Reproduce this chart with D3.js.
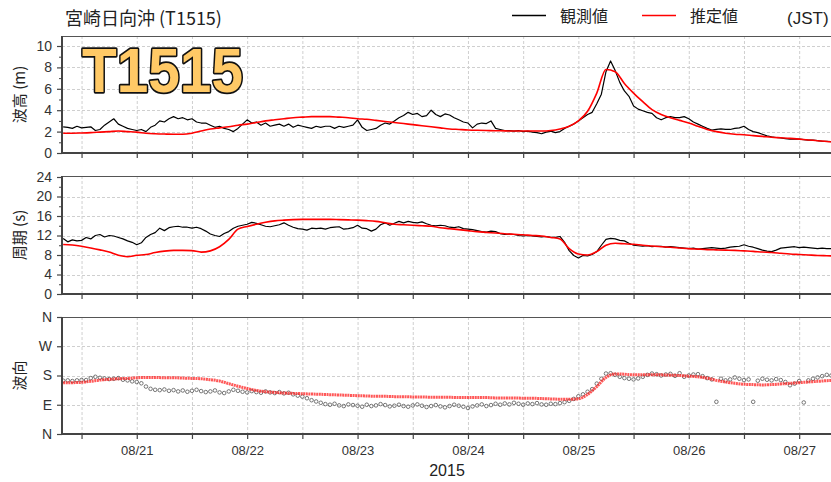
<!DOCTYPE html>
<html>
<head>
<meta charset="utf-8">
<script src="https://cdn.jsdelivr.net/npm/d3@7"></script>
<style>
  body { margin: 0; background: #fff; }
  svg { display: block; font-family: "Liberation Sans", Arial, sans-serif; }
  .jp { font-family: "Noto Sans CJK JP", "Noto Sans", sans-serif; }
  .tick text { fill: #333; font-size: 13px; }
</style>
</head>
<body>
<svg id="chart" width="831" height="482"></svg>
<script>
// Observed series: hourly from 2015-08-20 08:00 JST
const obsHeight = [
  2.45, 2.4, 2.3, 2.5, 2.35, 2.4, 2.45, 2.1, 2.2, 2.6,
  2.9, 3.2, 2.7, 2.5, 2.3, 2.2, 2.1, 2.2, 2.0, 2.4,
  2.6, 3.0, 2.9, 3.2, 3.4, 3.2, 3.3, 3.1, 3.2, 2.9,
  2.8, 2.8, 2.6, 2.4, 2.5, 2.3, 2.2, 2.0, 2.3, 2.7,
  3.1, 2.8, 2.9, 2.6, 2.8, 2.5, 2.6, 2.7, 2.5, 2.7,
  2.4, 2.6, 2.5, 2.4, 2.3, 2.5, 2.4, 2.5, 2.5, 2.3,
  2.5, 2.4, 2.5, 2.6, 3.1, 2.4, 2.1, 2.2, 2.3, 2.6,
  2.8, 2.7, 3.0, 3.3, 3.5, 3.8, 3.6, 3.7, 3.4, 3.5,
  4.0, 3.6, 3.4, 3.65, 3.55, 3.3, 3.1, 2.9, 2.8, 2.35,
  2.7, 2.8, 2.75, 3.0, 2.3, 2.2, 2.1, 2.1, 2.05, 2.1,
  2.0, 2.05, 1.95, 1.9, 1.8, 1.95, 2.05, 1.9, 2.0, 2.3,
  2.5, 2.7, 3.0, 3.3, 3.6, 3.8, 4.6, 5.5, 7.6, 8.6,
  7.7, 6.6, 5.8, 5.3, 4.4, 4.1, 3.95, 3.8, 3.7, 3.3,
  3.1, 3.3, 3.4, 3.3, 3.3, 3.4, 3.2, 2.9, 2.7, 2.5,
  2.3, 2.15, 2.2, 2.25, 2.2, 2.2, 2.3, 2.35, 2.5, 2.2,
  2.0, 1.9, 1.75, 1.6, 1.5, 1.45, 1.4, 1.35, 1.3, 1.3,
  1.3, 1.25, 1.2, 1.2, 1.15, 1.1, 1.1, 1.05
];
const obsPeriod = [
  11.4, 10.7, 11.1, 10.9, 11.0, 11.6, 11.3, 12.0, 12.2, 11.7,
  12.0, 11.9, 11.6, 11.3, 10.9, 10.6, 10.1, 10.5, 11.6, 12.2,
  12.6, 13.5, 13.0, 13.6, 13.8, 13.9, 13.7, 13.7, 13.5, 13.7,
  13.4, 12.9, 12.3, 12.0, 11.8, 12.4, 12.8, 13.5, 13.9, 14.1,
  14.3, 14.7, 14.5, 14.2, 13.9, 13.8, 14.0, 14.2, 14.6, 14.1,
  13.7, 13.4, 13.3, 13.1, 13.5, 13.4, 13.5, 13.3, 13.6, 13.7,
  13.8, 13.3, 13.4, 13.6, 14.1, 13.5, 13.4, 12.9, 13.3, 14.2,
  14.6, 14.1, 14.5, 14.9, 14.6, 14.9, 14.7, 14.6, 14.8, 14.4,
  14.1, 14.0, 14.1, 14.0, 13.7, 13.6, 13.8, 13.4, 13.3, 13.2,
  13.0, 12.8, 12.7, 12.9, 12.8, 12.4, 12.2, 12.3, 12.2, 12.0,
  11.9, 12.0, 11.9, 11.8, 11.7, 11.8, 11.6, 11.6, 11.8, 10.6,
  8.9, 7.9, 7.4, 7.9, 7.8, 8.1, 8.7, 10.0, 11.2, 11.4,
  11.3, 11.0, 10.9, 10.4, 10.0, 9.9, 9.8, 9.9, 9.7, 9.8,
  9.8, 9.6, 9.7, 9.6, 9.5, 9.4, 9.3, 9.4, 9.2, 9.3,
  9.4, 9.5, 9.4, 9.3, 9.4, 9.6, 9.7, 9.8, 10.1, 9.8,
  9.6, 9.3, 9.0, 8.8, 8.7, 9.0, 9.4, 9.5, 9.6, 9.7,
  9.5, 9.6, 9.5, 9.4, 9.3, 9.4, 9.3, 9.3
];
const obsDirection = [
  164, 165, 163, 165, 166, 166, 172, 176, 173, 171,
  169, 170, 172, 167, 165, 162, 160, 156, 146, 139,
  136, 135, 137, 133, 135, 131, 134, 130, 133, 136,
  132, 129, 131, 134, 128, 126, 131, 136, 133, 130,
  128, 132, 129, 127, 131, 128, 126, 129, 125, 127,
  122, 118, 115, 110, 104, 100, 96, 92, 90, 93,
  88, 86, 91, 89, 87, 84, 90, 86, 88, 92,
  89, 85, 87, 90, 86, 84, 88, 91, 87, 83,
  86, 89, 85, 82, 86, 90, 87, 84, 80, 85,
  88, 91, 86, 89, 93, 90, 94, 91, 96, 93,
  90, 94, 92, 95, 91, 90, 93, 92, 95, 98,
  102, 108, 116, 122, 130, 138, 155, 170, 186, 187,
  182, 176, 172, 170, 168, 171, 176, 182, 186, 184,
  180, 183, 185, 179, 187, 176, 180, 183, 184, 178,
  172, 168, 99, 170, 165, 168, 174, 170, 166, 168,
  99, 164, 170, 167, 165, 169, 166, 160, 150, 155,
  163, 97, 165, 170, 174, 178, 182, 180
];

// Estimated series: every 2 hours from 2015-08-20 08:00 JST
const estHeight = [
  1.85, 1.85, 1.87, 1.9, 1.95, 2.0, 2.05, 2.0, 1.95, 1.85,
  1.8, 1.77, 1.75, 1.75, 1.85, 2.05, 2.25, 2.35, 2.45, 2.6,
  2.7, 2.85, 3.0, 3.1, 3.2, 3.3, 3.35, 3.4, 3.4, 3.4,
  3.35, 3.3, 3.2, 3.15, 3.05, 2.95, 2.85, 2.75, 2.65, 2.55,
  2.45, 2.35, 2.25, 2.2, 2.15, 2.12, 2.1, 2.08, 2.07, 2.05,
  2.05, 2.05, 2.05, 2.1, 2.25, 2.5, 3.0, 3.9, 5.6, 7.8,
  7.6, 6.5, 5.6, 4.8, 4.05, 3.6, 3.3, 3.05, 2.8, 2.5,
  2.2, 2.0, 1.85, 1.75, 1.7, 1.62, 1.55, 1.47, 1.42, 1.37,
  1.3, 1.22, 1.15, 1.07, 1.02
];
const estPeriod = [
  10.15, 10.05, 9.8, 9.45, 9.05, 8.6, 7.95, 7.65, 7.95, 8.1,
  8.5, 8.8, 8.95, 8.95, 8.9, 8.6, 8.85, 9.7, 11.2, 13.3,
  13.85, 14.3, 14.7, 15.0, 15.15, 15.25, 15.3, 15.3, 15.3, 15.3,
  15.25, 15.2, 15.15, 15.05, 14.9, 14.6, 14.3, 14.2, 14.1, 14.0,
  13.9, 13.6, 13.4, 13.2, 13.0, 12.8, 12.65, 12.5, 12.35, 12.25,
  12.15, 12.0, 11.9, 11.6, 11.3, 9.3, 8.2, 8.0, 8.7, 10.0,
  10.4, 10.3, 10.2, 10.0, 9.85, 9.7, 9.6, 9.45, 9.3, 9.2,
  9.1, 9.05, 9.0, 8.95, 8.85, 8.75, 8.6, 8.5, 8.35, 8.2,
  8.1, 8.0, 7.9, 7.85, 7.8
];
const estDirection = [
  158, 158, 159, 162, 166, 168, 170, 171, 173, 174,
  174, 173, 173, 172, 171, 170, 167, 163, 155, 147,
  140, 134, 130, 128, 126, 125, 124, 123, 122, 121,
  120, 119, 118, 117, 116, 116, 115, 115, 114, 114,
  113, 113, 113, 112, 112, 112, 112, 111, 111, 111,
  110, 110, 109, 108, 107, 107, 108, 122, 146, 174,
  185, 184, 182, 182, 182, 182, 181, 180, 178, 176,
  172, 165, 160, 156, 153, 152, 151, 152, 154, 156,
  158, 160, 162, 164, 165
];

// Axis tick labels
const heightTicks = [0, 2, 4, 6, 8, 10];
const periodTicks = [0, 4, 8, 12, 16, 20, 24];
const dirTickValues = [0, 90, 180, 270, 360];
const dirTickLabels = ["N", "E", "S", "W", "N"];

const seriesStart = new Date(2015, 7, 20, 8);
const obsTime = i => d3.timeHour.offset(seriesStart, i);
const estTime = i => d3.timeHour.offset(seriesStart, 2 * i);

const svg = d3.select("#chart");
const left = 62, right = 831;

const x = d3.scaleTime()
  .domain([new Date(2015, 7, 20, 7, 45), new Date(2015, 7, 27, 6, 55)])
  .range([left, right]);
const halfDays = d3.timeHour.every(12).range(new Date(2015, 7, 20, 8), new Date(2015, 7, 27, 7));

const panels = [
  { id: "hgt", top: 36, bottom: 153, y: d3.scaleLinear([0, 10], [153, 46]),
    ticks: heightTicks, minor: [1, 3, 5, 7, 9], label: "波高 (m)",
    obs: obsHeight, est: estHeight, kind: "line" },
  { id: "per", top: 176, bottom: 294, y: d3.scaleLinear([0, 24], [294, 177]),
    ticks: periodTicks, minor: [2, 6, 10, 14, 18, 22], label: "周期 (s)",
    obs: obsPeriod, est: estPeriod, kind: "line" },
  { id: "dir", top: 317, bottom: 434, y: d3.scaleLinear([0, 360], [434, 317]),
    ticks: dirTickValues, minor: [], label: "波向",
    obs: obsDirection, est: estDirection, kind: "dots" }
];

const defs = svg.append("defs");

panels.forEach(p => {
  const g = svg.append("g");
  defs.append("clipPath").attr("id", "clip-" + p.id)
    .append("rect").attr("x", left).attr("y", p.top)
    .attr("width", right - left).attr("height", p.bottom - p.top);

  // grid
  const grid = g.append("g").attr("stroke", "#cfcfcf").attr("stroke-width", 1)
    .attr("stroke-dasharray", "3,2");
  grid.selectAll("line.v").data(halfDays).join("line")
    .attr("x1", d => x(d) + 0.5).attr("x2", d => x(d) + 0.5)
    .attr("y1", p.top).attr("y2", p.bottom);
  grid.selectAll("line.h").data(p.ticks.filter(v => p.y(v) > p.top + 2 && p.y(v) < p.bottom - 2)).join("line")
    .attr("x1", left).attr("x2", right)
    .attr("y1", d => Math.round(p.y(d)) + 0.5).attr("y2", d => Math.round(p.y(d)) + 0.5);

  // data
  const plot = g.append("g").attr("clip-path", `url(#clip-${p.id})`);
  const obsPts = p.obs.map((v, i) => [obsTime(i), v]);
  const estPts = p.est.map((v, i) => [estTime(i), v]);
  if (p.kind === "line") {
    plot.append("path").datum(obsPts)
      .attr("fill", "none").attr("stroke", "#000").attr("stroke-width", 1.2)
      .attr("stroke-linejoin", "round")
      .attr("d", d3.line().x(d => x(d[0])).y(d => p.y(d[1])));
    plot.append("path").datum(estPts)
      .attr("fill", "none").attr("stroke", "#ff0000").attr("stroke-width", 1.6)
      .attr("d", d3.line().curve(d3.curveMonotoneX).x(d => x(d[0])).y(d => p.y(d[1])));
  } else {
    plot.selectAll("circle.obs").data(obsPts).join("circle")
      .attr("cx", d => x(d[0])).attr("cy", d => p.y(d[1])).attr("r", 1.8)
      .attr("fill", "none").attr("stroke", "#555").attr("stroke-width", 0.8);
    plot.append("path").datum(estPts)
      .attr("fill", "none").attr("stroke", "#ff2020").attr("stroke-width", 3)
      .attr("stroke-opacity", 0.75).attr("stroke-dasharray", "2,0.6")
      .attr("d", d3.line().curve(d3.curveMonotoneX).x(d => x(d[0])).y(d => p.y(d[1])));
  }

  // frame top
  g.append("line").attr("x1", left).attr("x2", right)
    .attr("y1", p.top + 0.5).attr("y2", p.top + 0.5)
    .attr("stroke", "#555").attr("stroke-width", 1);

  // y axis
  const ya = g.append("g").attr("transform", `translate(${left},0)`)
    .call(d3.axisLeft(p.y).tickValues(p.ticks).tickSize(5).tickPadding(5)
      .tickFormat((d, i) => p.id === "dir" ? dirTickLabels[i] : d));
  ya.select(".domain").remove();
  ya.selectAll(".tick line").attr("stroke", "#444").attr("stroke-width", 1.2);
  ya.selectAll(".tick text").style("font-size", "14px");
  if (p.minor.length) {
    const ym = g.append("g").attr("transform", `translate(${left},0)`)
      .call(d3.axisLeft(p.y).tickValues(p.minor).tickSize(3).tickFormat(""));
    ym.select(".domain").remove();
    ym.selectAll(".tick line").attr("stroke", "#444").attr("stroke-width", 1);
  }
  g.append("line").attr("x1", left).attr("x2", left)
    .attr("y1", p.top).attr("y2", p.bottom + 1)
    .attr("stroke", "#444").attr("stroke-width", 2);

  // x axis
  const xa = g.append("g").attr("transform", `translate(0,${p.bottom})`)
    .call(d3.axisBottom(x).tickValues(halfDays).tickSize(5).tickPadding(7)
      .tickFormat(d => (p.id === "dir" && d.getHours() === 0) ? d3.timeFormat("%m/%d")(d) : ""));
  xa.select(".domain").remove();
  xa.selectAll(".tick line").attr("stroke", "#444").attr("stroke-width", 1.2);
  g.append("line").attr("x1", left - 1).attr("x2", right)
    .attr("y1", p.bottom).attr("y2", p.bottom)
    .attr("stroke", "#444").attr("stroke-width", 2);

  // y label
  g.append("text").attr("class", "jp")
    .attr("transform", `translate(20,${(p.top + p.bottom) / 2}) rotate(-90)`)
    .attr("text-anchor", "middle").attr("dy", "0.35em")
    .attr("font-size", 15).attr("fill", "#222").text(p.label);
});

// year label
svg.append("text").attr("x", 447).attr("y", 476).attr("text-anchor", "middle")
  .attr("font-size", 16).attr("fill", "#222").text("2015");

// title
svg.append("text").attr("class", "jp").attr("x", 65).attr("y", 25)
  .attr("font-size", 18).attr("fill", "#222").text("宮崎日向沖 (T1515)");

// legend
const legend = [
  { label: "観測値", color: "#000", x: 512 },
  { label: "推定値", color: "#ff0000", x: 642 }
];
legend.forEach(l => {
  svg.append("line").attr("x1", l.x).attr("x2", l.x + 34)
    .attr("y1", 15.5).attr("y2", 15.5).attr("stroke", l.color).attr("stroke-width", 1.5);
  svg.append("text").attr("class", "jp").attr("x", l.x + 48).attr("y", 22)
    .attr("font-size", 16).attr("fill", "#222").text(l.label);
});
svg.append("text").attr("x", 787).attr("y", 24)
  .attr("font-size", 17).attr("fill", "#222").text("(JST)");

// typhoon badge
svg.append("text").attr("x", 82).attr("y", 92)
  .attr("font-size", 63).attr("font-weight", "bold")
  .attr("textLength", 161).attr("lengthAdjust", "spacingAndGlyphs")
  .attr("fill", "#FFC966").attr("stroke", "#111").attr("stroke-width", 3.4)
  .attr("stroke-linejoin", "round").attr("paint-order", "stroke")
  .text("T1515");
</script>
</body>
</html>
